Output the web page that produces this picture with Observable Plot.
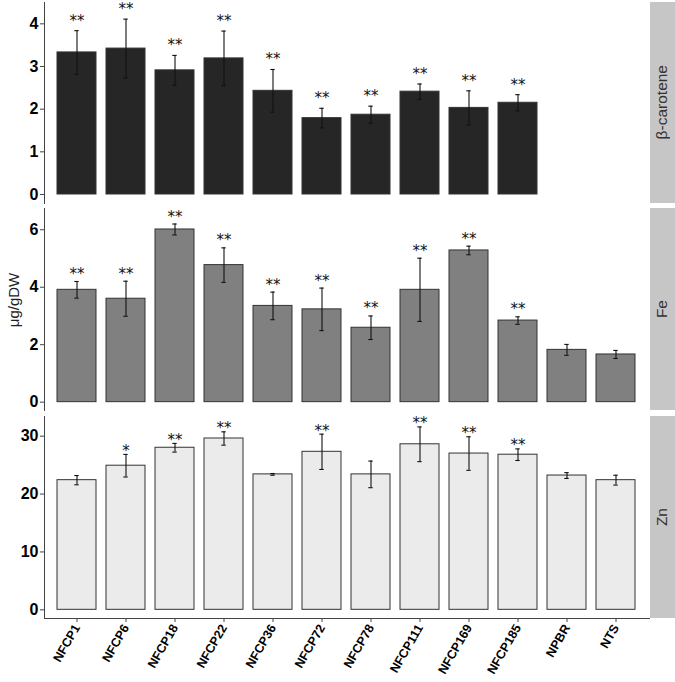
<!DOCTYPE html>
<html><head><meta charset="utf-8">
<script src="https://cdn.jsdelivr.net/npm/d3@7"></script>
<script src="https://cdn.jsdelivr.net/npm/@observablehq/plot@0.6"></script>
<style>
body{margin:0;background:#fff;font-family:"Liberation Sans",Arial,sans-serif;}
#wrap{position:relative;width:675px;height:682px;overflow:hidden;background:#fff;}
.pl{position:absolute;left:0;}
.strip{position:absolute;left:649.5px;width:25.5px;background:#c6c6c6;display:flex;align-items:center;justify-content:center;}
.strip span{writing-mode:vertical-rl;transform:rotate(180deg);font-size:15.5px;color:#333;white-space:nowrap;}
#ylab{position:absolute;left:13px;top:300px;transform:translate(-50%,-50%) rotate(-90deg);font-size:15px;color:#222;white-space:nowrap;}
</style></head>
<body><div id="wrap"><div id="ylab">μg/gDW</div></div>
<script>
const categories = ["NFCP1","NFCP6","NFCP18","NFCP22","NFCP36","NFCP72","NFCP78","NFCP111","NFCP169","NFCP185","NPBR","NTS"];
const panelNames = ["β-carotene","Fe","Zn"];

const betaMean = [3.33,3.42,2.91,3.19,2.43,1.79,1.87,2.41,2.03,2.15,null,null];
const betaSd   = [0.51,0.69,0.35,0.64,0.50,0.23,0.20,0.18,0.40,0.19,null,null];
const betaStars= ["**","**","**","**","**","**","**","**","**","**","",""];

const feMean = [3.91,3.60,6.01,4.77,3.35,3.23,2.59,3.91,5.28,2.84,1.82,1.66];
const feSd   = [0.29,0.61,0.19,0.60,0.48,0.74,0.41,1.10,0.15,0.13,0.19,0.14];
const feStars= ["**","**","**","**","**","**","**","**","**","**","",""];

const znMean = [22.4,24.9,28.0,29.6,23.4,27.3,23.4,28.6,27.0,26.8,23.2,22.4];
const znSd   = [0.8,1.95,0.75,1.15,0.15,3.05,2.3,3.0,2.9,1.0,0.5,0.85];
const znStars= ["","*","**","**","","**","","**","**","**","",""];

const yTicksBeta = [0,1,2,3,4];
const yTicksFe = [0,2,4,6];
const yTicksZn = [0,10,20,30];

const wrap = document.getElementById("wrap");

function makePanel(cfg) {
  const rows = categories.map((c, i) => ({
    cat: c, mean: cfg.mean[i],
    lo: cfg.mean[i] == null ? null : cfg.mean[i] - cfg.sd[i],
    hi: cfg.mean[i] == null ? null : cfg.mean[i] + cfg.sd[i],
    star: cfg.stars[i]
  })).filter(d => d.mean != null);
  const marks = [
    Plot.barY(rows, {x: "cat", y: "mean", fill: cfg.fill, stroke: "#333", strokeWidth: 1}),
    Plot.ruleX(rows, {x: "cat", y1: "lo", y2: "hi", stroke: "#111", strokeWidth: 1.1}),
    Plot.tickY(rows, {x: "cat", y: "hi", insetLeft: 17.3, insetRight: 17.3, stroke: "#111", strokeWidth: 1.1}),
    Plot.tickY(rows, {x: "cat", y: "lo", insetLeft: 17.3, insetRight: 17.3, stroke: "#111", strokeWidth: 1.1}),
    Plot.text(rows.filter(d => d.star), {x: "cat", y: "hi", text: "star", lineAnchor: "bottom", dy: cfg.dy, fontSize: 15, fontFamily: "DejaVu Sans", fontWeight: "normal", fill: "#111"}),
    Plot.axisY({ticks: cfg.ticks, tickFormat: d3.format("d"), tickSize: 4, tickPadding: 2, label: null, stroke: "#444", fontSize: 16, fontWeight: "bold"}),
    Plot.frame({anchor: "left", stroke: "#444"})
  ];
  if (cfg.xAxis) {
    marks.push(Plot.axisX({tickRotate: -60, tickSize: 4, tickPadding: 3, label: null, fontSize: 12.5, fontWeight: "bold", stroke: "#444"}));
    marks.push(Plot.frame({anchor: "bottom", stroke: "#444"}));
  }
  const svg = Plot.plot({
    width: 650, height: cfg.height,
    marginLeft: 44, marginRight: 1, marginTop: cfg.mt, marginBottom: cfg.mb,
    x: cfg.xAxis ? {domain: categories, padding: 0.2} : {domain: categories, padding: 0.2, axis: null},
    y: {domain: cfg.domain},
    style: {fontFamily: "Liberation Sans, Arial, sans-serif", fontSize: "15px", color: "#000", background: "transparent", overflow: "visible"},
    marks
  });
  svg.classList.add("pl");
  svg.style.top = cfg.top + "px";
  svg.style.position = "absolute";
  wrap.appendChild(svg);
  const s = document.createElement("div");
  s.className = "strip";
  s.style.top = (cfg.top + cfg.mt) + "px";
  s.style.height = (cfg.height - cfg.mt - cfg.mb) + "px";
  const sp = document.createElement("span");
  sp.textContent = cfg.name;
  s.appendChild(sp);
  wrap.appendChild(s);
}

makePanel({name: panelNames[0], mean: betaMean, sd: betaSd, stars: betaStars, ticks: yTicksBeta, domain: [-0.211, 4.5], fill: "#262626", dy: -5, top: 0, height: 205, mt: 2, mb: 2, xAxis: false});
makePanel({name: panelNames[1], mean: feMean, sd: feSd, stars: feStars, ticks: yTicksFe, domain: [-0.29, 6.74], fill: "#808080", dy: -2.5, top: 206, height: 206, mt: 2, mb: 2, xAxis: false});
makePanel({name: panelNames[2], mean: znMean, sd: znSd, stars: znStars, ticks: yTicksZn, domain: [-1.5, 33.4], fill: "#ebebeb", dy: 1.5, top: 414, height: 268, mt: 2, mb: 64, xAxis: true});
</script>
</body></html>
